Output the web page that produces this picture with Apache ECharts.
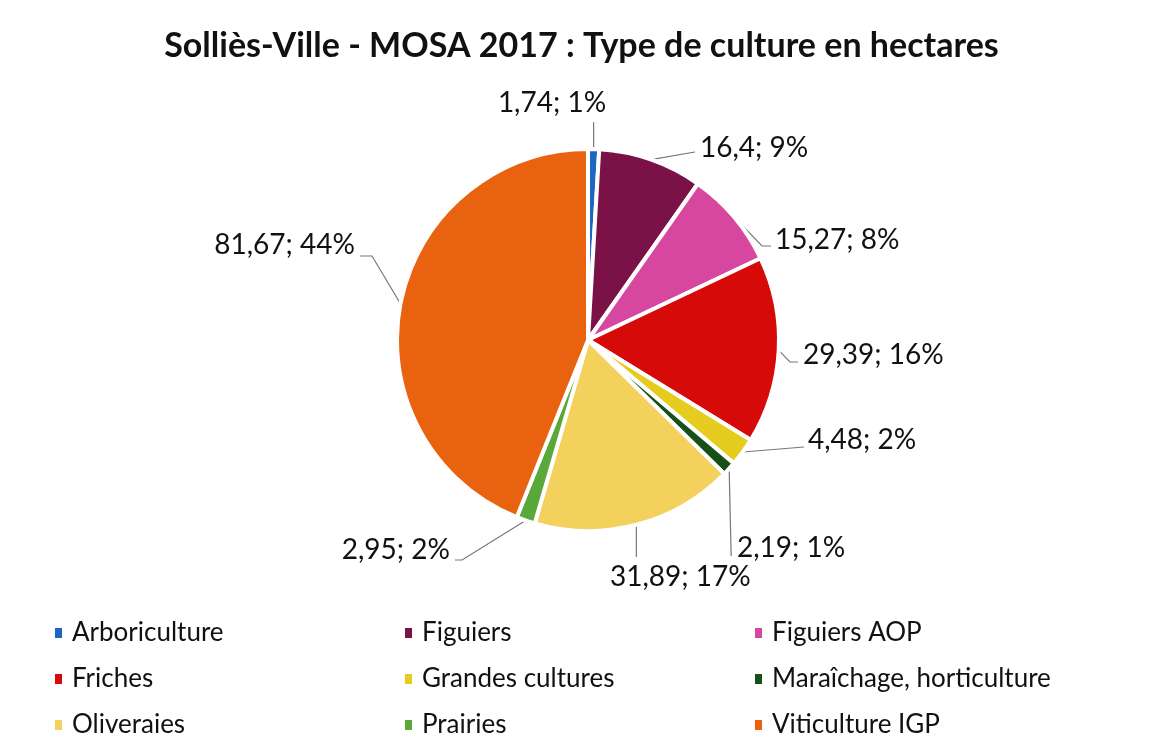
<!DOCTYPE html>
<html><head><meta charset="utf-8">
<script src="https://cdn.jsdelivr.net/npm/echarts@6/dist/echarts.min.js"></script>
<style>html,body{margin:0;padding:0;background:#fff}#c{width:1163px;height:756px}</style>
</head><body><div id="c"></div>
<script>
const categories = ["Arboriculture","Figuiers","Figuiers AOP","Friches","Grandes cultures","Maraîchage, horticulture","Oliveraies","Prairies","Viticulture IGP"];
const values = [1.74, 16.4, 15.27, 29.39, 4.48, 2.19, 31.89, 2.95, 81.67];
const colors = ["#1f66c2","#7a1247","#d8479f","#d70a0a","#e5cc1f","#19501a","#f4d15c","#5aa83a","#e9620f"];
const titleText = "Solliès-Ville - MOSA 2017 : Type de culture en hectares";

// label placement (layout only): text anchor, alignment, leader-line path after the slice edge
const labelPlacement = [
  {x:552, y:103, align:'center', path:e=>[[e[0],122]]},
  {x:700, y:148, align:'left',   path:e=>[[695,152]]},
  {x:775, y:240, align:'left',   path:e=>[[762,246],[771,246]]},
  {x:803, y:355, align:'left',   path:e=>[[790,362],[798,362]]},
  {x:808, y:440, align:'left',   path:e=>[[804,447]]},
  {x:737, y:548, align:'left',   path:e=>[[e[0]+2,556]]},
  {x:610, y:577, align:'left',   path:e=>[[e[0],557]]},
  {x:450, y:550, align:'right',  path:e=>[[462,560],[455,560]]},
  {x:355, y:245, align:'right',  path:e=>[[372,256],[360,256]]}
];

const total = values.reduce((a,b)=>a+b,0);
const font = "Lato, 'Open Sans', sans-serif";
const chart = echarts.init(document.getElementById('c'));
const legendCols = [[0,3,6],[1,4,7],[2,5,8]];
const legendLeft = [48, 398, 748];
chart.setOption({
  animation:false,
  title:{text:titleText,left:'center',top:24,textStyle:{fontFamily:font,fontSize:34,fontWeight:'bold',color:'#111'}},
  color:colors,
  legend: legendCols.map((col,i)=>({
    orient:'vertical', left:legendLeft[i], top:615, itemWidth:9, itemHeight:12, itemGap:20,
    icon:'rect', data:col.map(k=>categories[k]),
    textStyle:{fontFamily:font,fontSize:26,color:'#111',padding:[0,0,0,4]}
  })),
  series:[{
    type:'pie', center:[588,340], radius:191, startAngle:90, clockwise:true,
    itemStyle:{borderColor:'#fff',borderWidth:4},
    label:{show:true,fontFamily:font,fontSize:28,color:'#111',
      formatter:p=>String(values[p.dataIndex]).replace('.',',')+'; '+Math.round(values[p.dataIndex]/total*100)+'%'},
    labelLine:{show:true,length:18,length2:22,lineStyle:{color:'#777',width:1.2}},
    labelLayout:function(p){
      const s = labelPlacement[p.dataIndex];
      const e = p.labelLinePoints ? p.labelLinePoints[0] : null;
      const out = {x:s.x, y:s.y, align:s.align, verticalAlign:'middle'};
      if (e) out.labelLinePoints = [[e[0],e[1]]].concat(s.path(e));
      return out;
    },
    data:categories.map((c,i)=>({name:c,value:values[i]}))
  }]
});
</script></body></html>
